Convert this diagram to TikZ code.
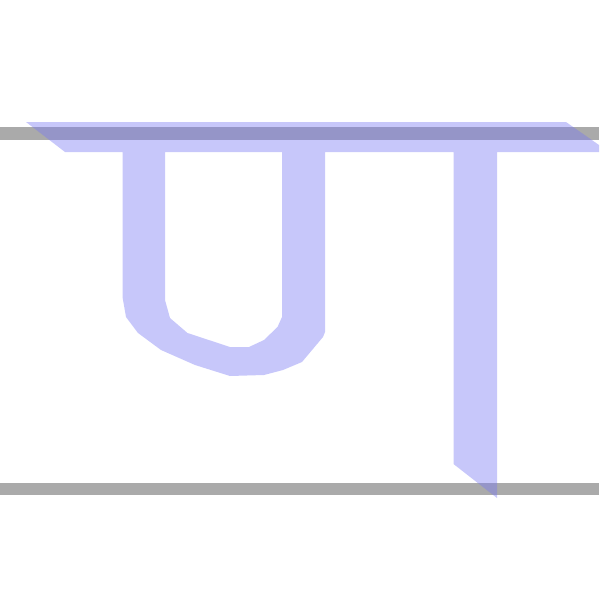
\documentclass[tikz,border=0pt]{standalone}
\usepackage{tikz}
\definecolor{guidegray}{RGB}{170,170,170}
\definecolor{glyphblue}{RGB}{120,120,243}
\tikzstyle{guide} = [fill=guidegray]
\tikzstyle{glyph} = [fill=glyphblue, fill opacity=.41, even odd rule]

\begin{document}
\begin{tikzpicture}[x=1pt, y=-1pt]
    \useasboundingbox (0,0) rectangle (600,600);
    % guide lines
    \fill[guide] (0,127) rectangle (599,140);
    \fill[guide] (0,483) rectangle (599,495);
    % letter pa
    \fill[glyph] (26,122) -- (566,122) -- (599,145) -- (599,152) -- (497,152)
        -- (497,498) -- (453.5,464) -- (453.5,152) -- (325,152) -- (325,332)
        -- (323,337) -- (302,362) -- (283,370) -- (264,375) -- (230,376)
        -- (195,365) -- (161,350) -- (138,333) -- (126,317) -- (122.5,297)
        -- (122.5,152) -- (65,152) -- cycle
        (165,152) -- (282,152) -- (282,317) -- (277.5,327) -- (264,340)
        -- (249,347) -- (230,347) -- (187.5,333) -- (170,318) -- (165,300) -- cycle;
\end{tikzpicture}
\end{document}
